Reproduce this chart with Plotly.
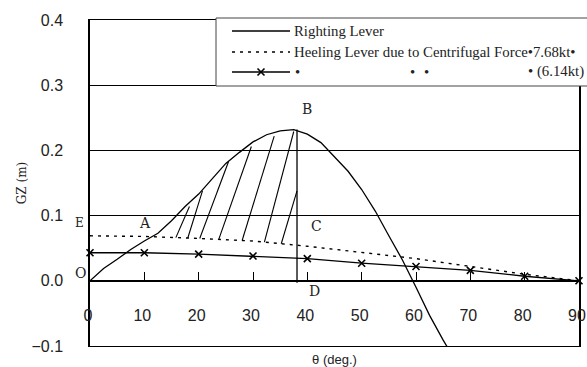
import plotly.graph_objects as go
import numpy as np

# ---------------- data ----------------
theta_gz = [0, 2.5, 5, 7.5, 10, 12.5, 15, 17.5, 20, 22.5, 25, 27.5, 30, 32.5, 35,
            37.5, 40, 42.5, 45, 47.5, 50, 52.5, 55, 57.5, 60, 62.5, 65, 66.5]
gz_righting = [0.0, 0.019, 0.033, 0.048, 0.061, 0.073, 0.092, 0.114, 0.133, 0.157,
               0.180, 0.197, 0.213, 0.224, 0.230, 0.232, 0.225, 0.212, 0.190, 0.168,
               0.140, 0.107, 0.069, 0.032, -0.010, -0.053, -0.091, -0.112]

theta_heel = [0, 10, 20, 30, 40, 50, 60, 70, 80, 90]
gz_heel_768 = [0.069, 0.068, 0.065, 0.061, 0.053, 0.044, 0.034, 0.022, 0.010, 0.0]
gz_heel_614 = [0.043, 0.043, 0.041, 0.038, 0.034, 0.027, 0.022, 0.016, 0.007, 0.0]

theta_max = 38.1          # angle of max GZ (line B-D)
gz_max = 0.232

# hatching between heeling lever and righting lever
hatch_base_deg = [15.8, 18.0, 20.2, 23.7, 28.0, 32.1, 35.2]
hatch_top_deg = [18.3, 20.7, 25.5, 29.7, 33.9, 37.5, 38.1]
hatch_top_gz = [0.114, 0.138, 0.183, 0.206, 0.222, 0.229, 0.138]

x_ticks = [0, 10, 20, 30, 40, 50, 60, 70, 80, 90]
x_ticktext = ["0", "10", "20", "30", "40", "50", "60", "70", "80", "90"]
y_ticks = [-0.1, 0.0, 0.1, 0.2, 0.3, 0.4]
y_ticktext = ["\u22120.1", "0.0", "0.1", "0.2", "0.3", "0.4"]

legend_labels = [
    "Righting Lever",
    "Heeling Lever due to Centrifugal Force\u20227.68kt\u2022",
    "\u2022 (6.14kt)",
]
legend_row3_bullets = ["\u2022", "\u2022", "\u2022"]

point_labels = ["A", "B", "C", "D"]
point_x = [10.2, 39.9, 41.6, 41.4]
point_y = [0.088, 0.263, 0.084, -0.015]

# ---------------- figure ----------------
W, H = 587, 367
ML, MR, MT, MB = 90, 8, 20, 21
PW, PH = W - ML - MR, H - MT - MB


def px2paper(px, py):
    return (px - ML) / PW, (H - MB - py) / PH


fig = go.Figure()

# hatch lines
hx, hy = [], []
for b, t, tg in zip(hatch_base_deg, hatch_top_deg, hatch_top_gz):
    hx += [b, t, None]
    hy += [float(np.interp(b, theta_heel, gz_heel_768)), tg, None]
fig.add_trace(go.Scatter(x=hx, y=hy, mode="lines",
                         line=dict(color="black", width=1.1),
                         showlegend=False, hoverinfo="skip"))

# B-D vertical line
fig.add_trace(go.Scatter(x=[theta_max, theta_max], y=[-0.003, gz_max], mode="lines",
                         line=dict(color="black", width=1.3),
                         showlegend=False, hoverinfo="skip"))

DOT = "3px,5px"
fig.add_trace(go.Scatter(x=theta_heel, y=gz_heel_768, mode="lines",
                         line=dict(color="black", width=1.4, dash=DOT),
                         name=legend_labels[1], showlegend=False))

fig.add_trace(go.Scatter(x=theta_gz, y=gz_righting, mode="lines",
                         line=dict(color="black", width=1.3),
                         name=legend_labels[0], showlegend=False))

fig.add_trace(go.Scatter(x=theta_heel, y=gz_heel_614, mode="lines+markers",
                         xaxis="x2",
                         line=dict(color="black", width=1.3),
                         marker=dict(symbol="x-thin", size=7,
                                     line=dict(color="black", width=1.6)),
                         name=legend_labels[2], showlegend=False,
                         cliponaxis=False))

tickfont = dict(family="Liberation Sans", size=16, color="#222")
serif = "DejaVu Serif"

fig.update_layout(
    width=W, height=H,
    margin=dict(l=ML, r=MR, t=MT, b=MB, autoexpand=False),
    paper_bgcolor="white", plot_bgcolor="white",
    showlegend=False,
    xaxis=dict(range=[0, 90], showline=True, mirror=True, linecolor="black",
               linewidth=1, showgrid=False, zeroline=False, ticks="",
               showticklabels=False,
               title=dict(text="\u03b8 (deg.)", standoff=10,
                          font=dict(family="Liberation Sans", size=13, color="#222"))),
    xaxis2=dict(range=[0, 90], overlaying="x", anchor="free", position=0.2,
                side="bottom", showline=True, linecolor="black", linewidth=1.5,
                showgrid=False, zeroline=False, ticks="inside", ticklen=8,
                tickwidth=1.3, tickcolor="black", tickvals=x_ticks,
                ticktext=x_ticktext, tickfont=tickfont, ticklabelstandoff=20,
                ticklabelshift=-2, ticklabeloverflow="allow"),
    yaxis=dict(range=[-0.1, 0.4], showline=True, mirror=True, linecolor="black",
               linewidth=1.5, showgrid=True, gridcolor="black", gridwidth=1,
               zeroline=False, ticks="", tickvals=y_ticks, ticktext=y_ticktext,
               tickfont=tickfont, ticklabelstandoff=22,
               title=dict(text="GZ (m)", standoff=2,
                          font=dict(family=serif, size=12, color="#222"))),
)

# point labels
for t, x, y in zip(point_labels, point_x, point_y):
    fig.add_annotation(x=x, y=y, xref="x", yref="y", text=t, showarrow=False,
                       font=dict(family=serif, size=14, color="#222"))
ex, _ = px2paper(73, 0)
fig.add_annotation(x=ex, y=0.089, xref="paper", yref="y", text="E", showarrow=False,
                   font=dict(family=serif, size=12, color="#222"))
fig.add_annotation(x=ex, y=0.012, xref="paper", yref="y", text="O", showarrow=False,
                   font=dict(family=serif, size=14, color="#222"))

# ---------------- legend box (manual) ----------------
bx0, by0 = px2paper(216, 86)
bx1, by1 = px2paper(620, 18)
fig.add_shape(type="rect", xref="paper", yref="paper", x0=bx0, y0=by0, x1=bx1, y1=by1,
              line=dict(color="#444", width=1), fillcolor="white", layer="above")
rows_py = [31, 52, 72]
lx0, _ = px2paper(232, 0)
lx1, _ = px2paper(290, 0)
tx, _ = px2paper(292, 0)
dashes = ["solid", DOT, "solid"]
widths = [1.3, 1.4, 1.3]
legfont = dict(family="Liberation Serif", size=14.8, color="#222")
for i, py in enumerate(rows_py):
    _, yy = px2paper(0, py)
    fig.add_shape(type="line", xref="paper", yref="paper", x0=lx0, x1=lx1, y0=yy, y1=yy,
                  line=dict(color="black", width=widths[i], dash=dashes[i]), layer="above")
_, y1r = px2paper(0, rows_py[0])
_, y2r = px2paper(0, rows_py[1])
_, y3r = px2paper(0, rows_py[2])
fig.add_annotation(x=tx, y=y1r, xref="paper", yref="paper", text=legend_labels[0],
                   showarrow=False, xanchor="left", yanchor="middle", font=legfont)
fig.add_annotation(x=tx, y=y2r, xref="paper", yref="paper", text=legend_labels[1],
                   showarrow=False, xanchor="left", yanchor="middle", font=legfont)
rx, _ = px2paper(586, 0)
fig.add_annotation(x=rx, y=y3r, xref="paper", yref="paper", text=legend_labels[2],
                   showarrow=False, xanchor="right", yanchor="middle", font=legfont)
for bpx, b in zip([297, 412, 426], legend_row3_bullets):
    bx, _ = px2paper(bpx, 0)
    fig.add_annotation(x=bx, y=y3r, xref="paper", yref="paper", text=b,
                       showarrow=False, xanchor="center", yanchor="middle", font=legfont)
# cross marker on third legend sample
cx, cy = px2paper(261, 72)
dx, dy = 3.5 / PW, 3.5 / PH
fig.add_shape(type="path", xref="paper", yref="paper",
              path=f"M{cx-dx},{cy-dy} L{cx+dx},{cy+dy} M{cx-dx},{cy+dy} L{cx+dx},{cy-dy}",
              line=dict(color="black", width=1.6), layer="above")

fig.write_html("out.html")
